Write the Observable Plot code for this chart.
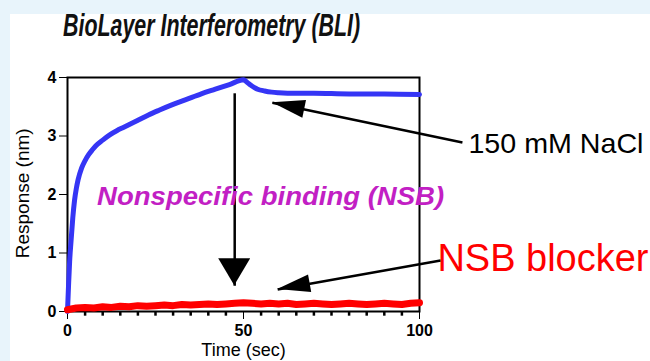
<!DOCTYPE html>
<html><head><meta charset="utf-8">
<script src="https://cdn.jsdelivr.net/npm/d3@7"></script>
<script src="https://cdn.jsdelivr.net/npm/@observablehq/plot@0.6"></script>
<style>
body{margin:0;background:#e8f4fb;width:650px;height:361px;overflow:hidden;position:relative;font-family:"Liberation Sans",Arial,sans-serif}
#panel{position:absolute;left:10px;top:14px;width:640px;height:347px;background:#fff}
#title{position:absolute;left:63px;top:10px;font:bold italic 31px/31px "Liberation Sans",Arial,sans-serif;transform:scaleX(0.69);transform-origin:0 0;white-space:nowrap;color:#111}
#chart{position:absolute;left:0;top:0}
</style></head><body>
<div id="panel"></div><div id="title">BioLayer Interferometry (BLI)</div><div id="chart"></div>
<script>
// Blue: binding without blocker (association 0-50 s, dissociation 50-100 s)
const blueTime = [0,0.3,0.6,1,1.5,2,2.5,3,4,5,6,7,8,10,12,14,16,18,20,23,26,30,34,38,42,46,50,51,52,53,54,56,58,60,65,70,80,90,100];
const blueResp = [0,0.45,0.85,1.2,1.6,1.9,2.1,2.25,2.45,2.58,2.68,2.76,2.83,2.93,3.02,3.09,3.15,3.21,3.27,3.36,3.44,3.54,3.63,3.72,3.80,3.88,3.96,3.92,3.87,3.83,3.80,3.77,3.75,3.74,3.73,3.73,3.72,3.72,3.71];
// Red: with NSB blocker
const redTime = [0,2.5,5,7.5,10,12.5,15,17.5,20,22.5,25,27.5,30,32.5,35,37.5,40,42.5,45,47.5,50,52.5,55,57.5,60,62.5,65,67.5,70,72.5,75,77.5,80,82.5,85,87.5,90,92.5,95,97.5,100];
const redResp = [0.03,0.06,0.07,0.06,0.08,0.07,0.09,0.08,0.10,0.09,0.10,0.11,0.10,0.12,0.11,0.12,0.13,0.12,0.13,0.14,0.15,0.14,0.13,0.14,0.13,0.14,0.12,0.13,0.14,0.13,0.12,0.13,0.14,0.13,0.12,0.13,0.14,0.13,0.12,0.14,0.15];
// Axis ticks
const yTicks = [0,1,2,3,4];
const xTicks = [0,50,100];
const xMinor = d3.range(5,100,5).filter(d=>d!==50);
// Annotations
const labels = [
  {text:"Nonspecific binding (NSB)", x:57.7, y:1.95, color:"#c21fc4", size:25, weight:"bold", style:"italic", anchor:"middle", len:347},
  {text:"150 mM NaCl", x:113.9, y:2.87, color:"#000", size:28, weight:"normal", style:"normal", anchor:"start", len:175},
  {text:"NSB blocker", x:105.1, y:0.90, color:"#ff0000", size:38, weight:"normal", style:"normal", anchor:"start", len:211}
];
const arrows = [
  {x1:47.5, y1:3.73, x2:47.5, y2:0.44, hl:27, hw:16},
  {x1:112.2, y1:2.89, x2:58.2, y2:3.57, hl:33, hw:9},
  {x1:106.0, y1:0.87, x2:59.7, y2:0.376, hl:33, hw:9}
];

const blue = blueTime.map((t,i)=>({t, r: blueResp[i]}));
const red = redTime.map((t,i)=>({t, r: redResp[i]}));

const chart = Plot.plot({
  width:650, height:361, marginLeft:67, marginRight:231, marginTop:77, marginBottom:50,
  style:{background:"transparent", fontFamily:"Liberation Sans, Arial, sans-serif", fontSize:"16px", fontWeight:"bold", color:"#000"},
  x:{domain:[0,100], ticks:xTicks, tickSize:8, tickPadding:5, label:null, tickFormat:d=>String(d)},
  y:{domain:[0,4], ticks:yTicks, tickSize:8, tickPadding:3, label:null, tickFormat:d=>String(d)},
  marks:[
    Plot.frame({stroke:"#000", strokeWidth:2}),
    Plot.ruleX(xMinor, {y1:0, y2:-0.08, stroke:"#000", strokeWidth:2.5}),
    Plot.line(blue, {x:"t", y:"r", stroke:"#3535f5", strokeWidth:5, curve:"monotone-x"}),
    Plot.line(red, {x:"t", y:"r", stroke:"#ff0000", strokeWidth:7}),
    Plot.link(arrows, {x1:"x1", y1:"y1", x2:"x2", y2:"y2", stroke:"#000", strokeWidth:2.5}),
    ...labels.map(l => Plot.text([l], {x:"x", y:"y", text:"text", fill:l.color, fontSize:l.size, fontWeight:l.weight, fontStyle:l.style, textAnchor:l.anchor})),
    Plot.text(["Time (sec)"], {x:50, y:-0.67, fontSize:18, fontWeight:"normal", fill:"#000"}),
    Plot.text(["Response (nm)"], {x:-12.8, y:2.02, fontSize:19, fontWeight:"normal", fill:"#000", rotate:-90})
  ]
});
document.getElementById("chart").appendChild(chart);

const svg = d3.select(chart);
// stretch annotation texts to their measured widths
labels.forEach(l => {
  svg.selectAll("text").filter(function(){return this.textContent===l.text;})
    .attr("textLength", l.len).attr("lengthAdjust","spacingAndGlyphs");
});
// filled arrowheads drawn through the plot's scales
const sx = chart.scale("x"), sy = chart.scale("y");
const g = svg.append("g");
arrows.forEach(a => {
  const px1 = sx.apply(a.x1), py1 = sy.apply(a.y1), px2 = sx.apply(a.x2), py2 = sy.apply(a.y2);
  const dx = px2-px1, dy = py2-py1, L = Math.hypot(dx,dy), ux = dx/L, uy = dy/L;
  const bx = px2-ux*a.hl, by = py2-uy*a.hl;
  const pts = [[px2,py2],[bx-uy*a.hw, by+ux*a.hw],[bx+uy*a.hw, by-ux*a.hw]];
  g.append("polygon").attr("points", pts.map(p=>p.join(",")).join(" ")).attr("fill","#000");
});
</script></body></html>
